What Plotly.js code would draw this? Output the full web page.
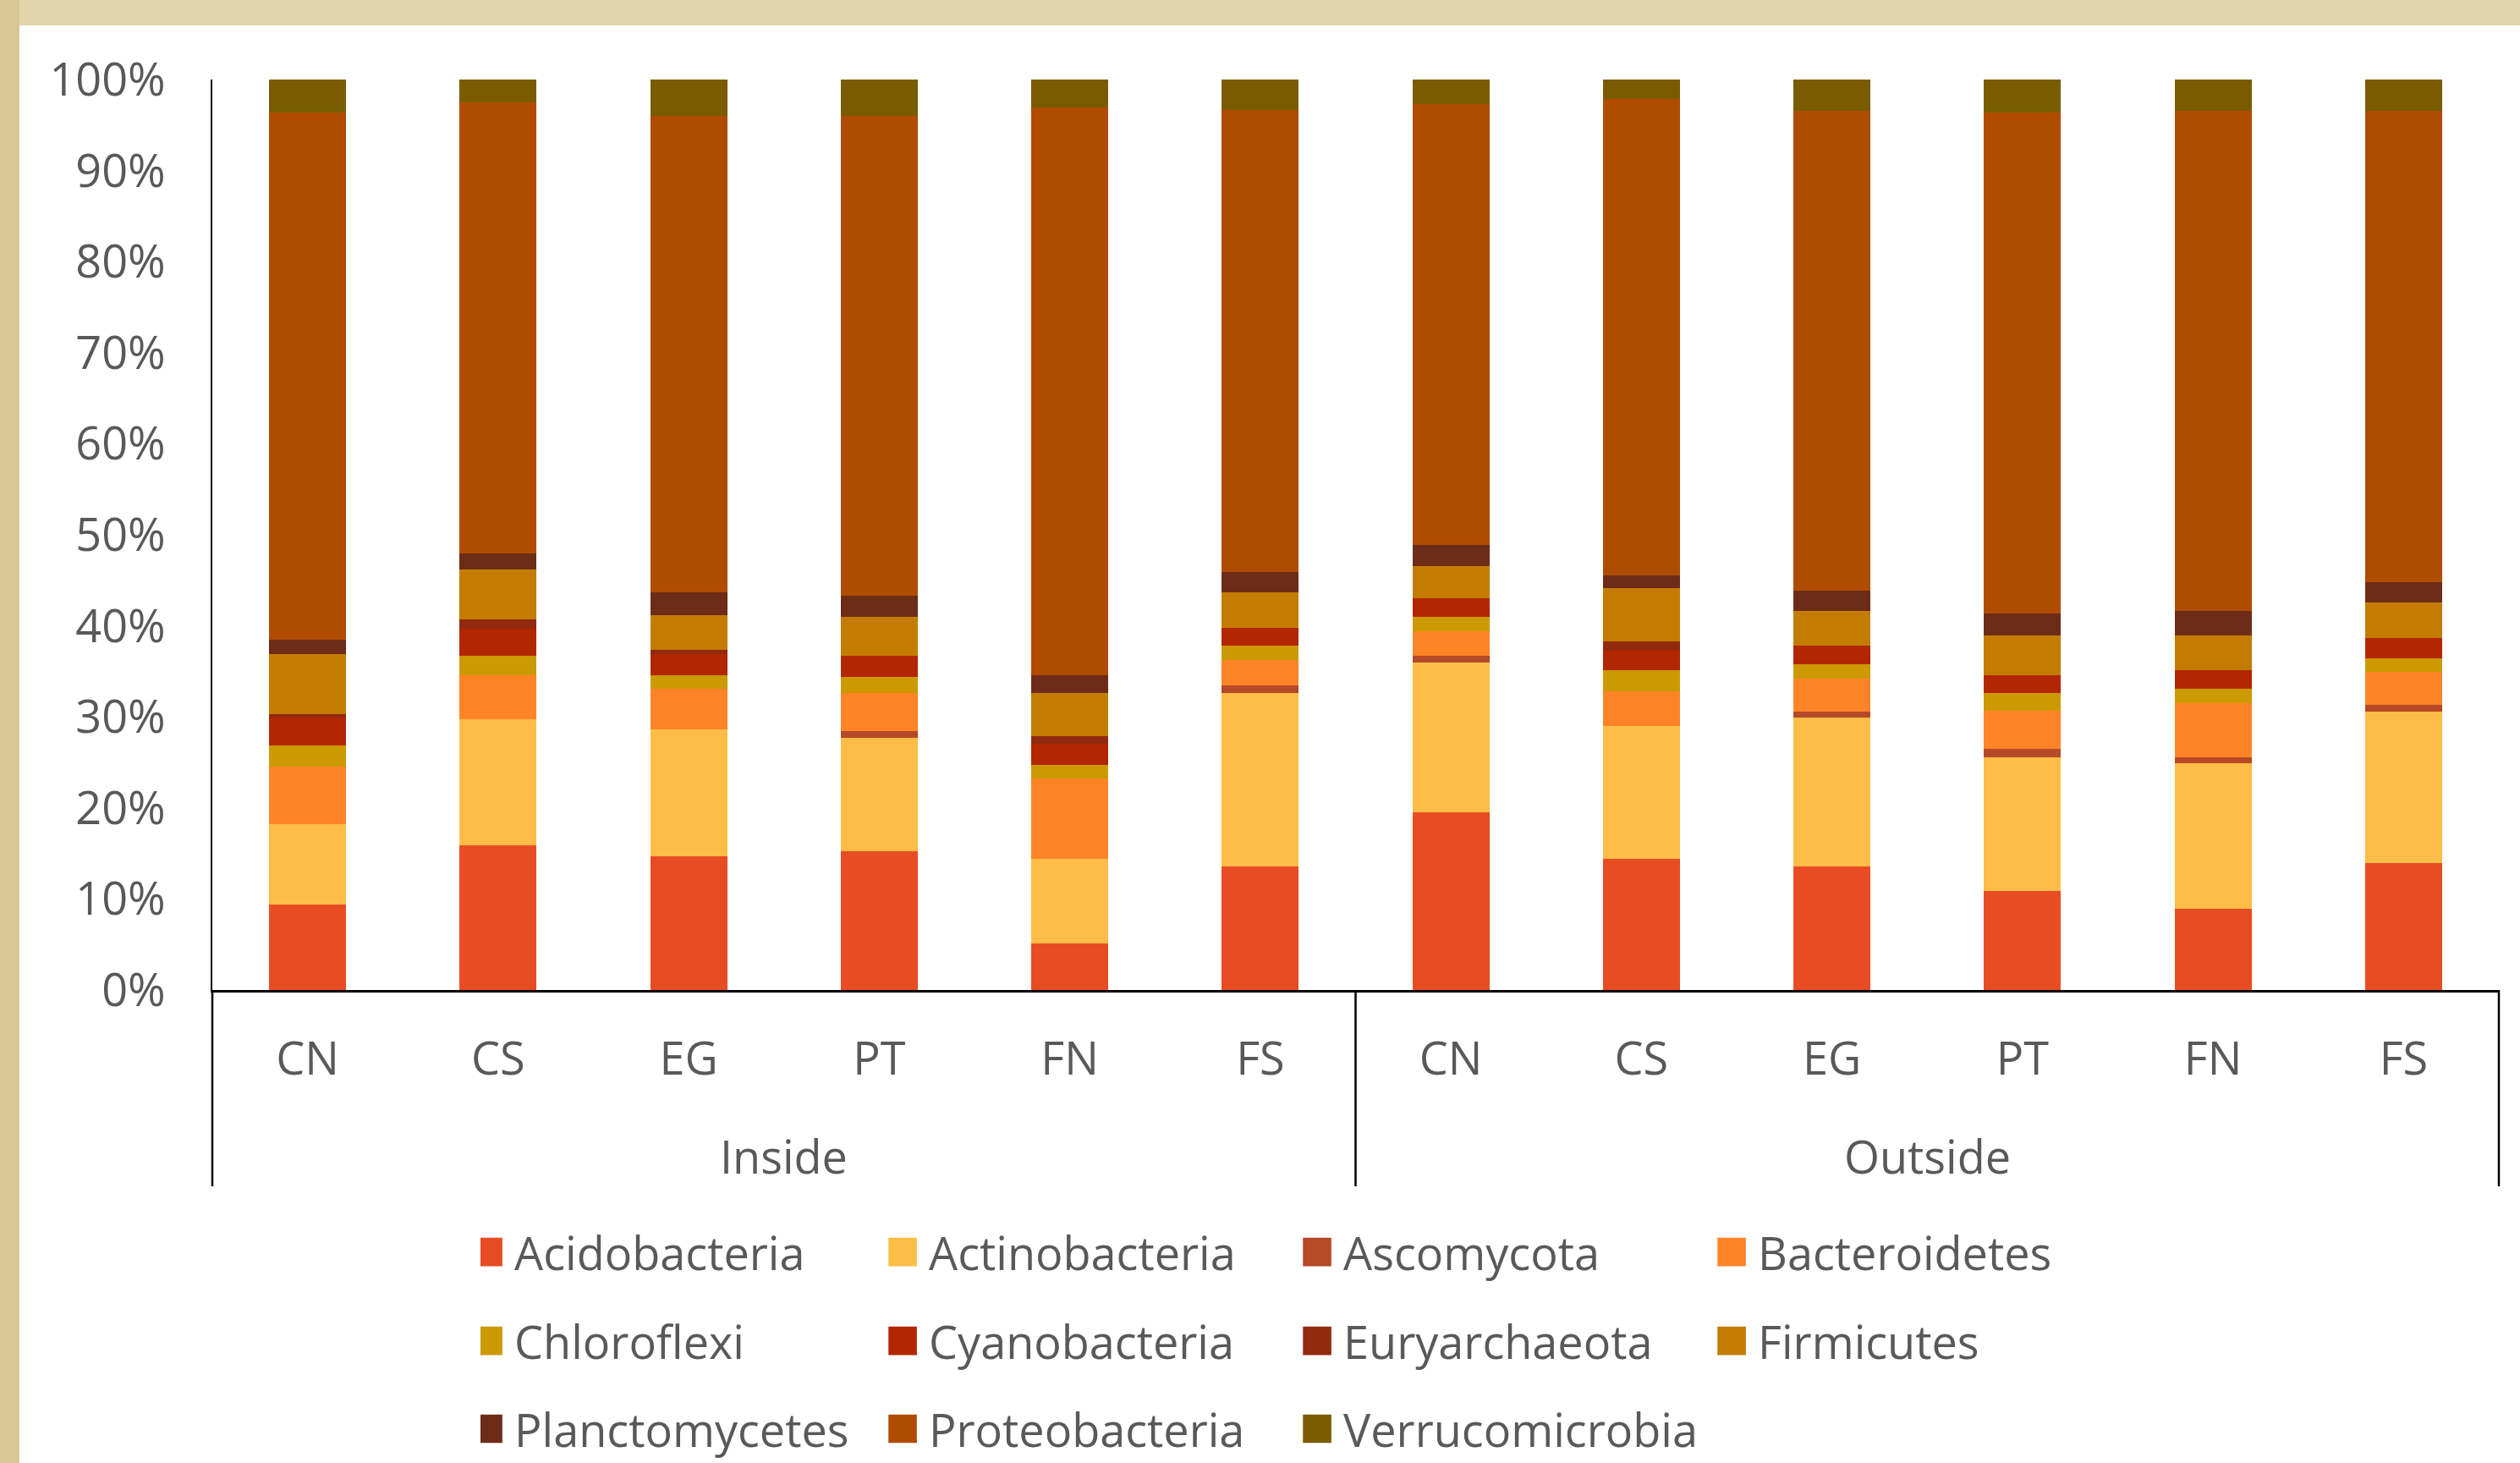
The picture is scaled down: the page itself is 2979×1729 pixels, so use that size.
<!DOCTYPE html>
<html><head><meta charset="utf-8">
<script src="https://cdn.plot.ly/plotly-3.0.1.min.js"></script>
<style>
html,body{margin:0;padding:0;width:2979px;height:1729px;overflow:hidden;background:#e2d5ab;}
#leftstrip{position:absolute;left:0;top:0;width:23px;height:1729px;background:#d8c795;}
#chart{position:absolute;left:23px;top:30px;width:2956px;height:1699px;background:#fff;}
</style></head><body>
<div id="leftstrip"></div><div id="chart"></div>
<script>
// Categories
const groups = ['Inside','Inside','Inside','Inside','Inside','Inside','Outside','Outside','Outside','Outside','Outside','Outside'];
const sites  = ['CN','CS','EG','PT','FN','FS','CN','CS','EG','PT','FN','FS'];

// Series (percent of relative abundance), order: Inside CN..FS, Outside CN..FS
const seriesNames = ['Acidobacteria','Actinobacteria','Ascomycota','Bacteroidetes','Chloroflexi','Cyanobacteria','Euryarchaeota','Firmicutes','Planctomycetes','Proteobacteria','Verrucomicrobia'];
const acidobacteria   = [9.4, 15.9, 14.7, 15.2, 5.1, 13.6, 19.5, 14.4, 13.6, 10.9, 8.9, 13.9];
const actinobacteria  = [8.8, 13.8, 13.9, 12.5, 9.3, 19.0, 16.5, 14.6, 16.3, 14.7, 16.0, 16.7];
const ascomycota      = [0.0, 0.0, 0.0, 0.7, 0.0, 0.9, 0.7, 0.0, 0.7, 0.9, 0.7, 0.7];
const bacteroidetes   = [6.3, 4.9, 4.5, 4.2, 8.8, 2.7, 2.7, 3.8, 3.6, 4.2, 5.9, 3.6];
const chloroflexi     = [2.4, 2.1, 1.5, 1.8, 1.5, 1.6, 1.6, 2.3, 1.6, 1.9, 1.6, 1.5];
const cyanobacteria   = [3.0, 3.0, 2.3, 2.3, 2.3, 2.0, 2.0, 2.2, 2.0, 2.0, 2.0, 2.3];
const euryarchaeota   = [0.4, 1.0, 0.5, 0.0, 0.9, 0.0, 0.0, 1.0, 0.0, 0.0, 0.0, 0.0];
const firmicutes      = [6.6, 5.5, 3.8, 4.3, 4.7, 3.9, 3.6, 5.8, 3.8, 4.3, 3.8, 3.9];
const planctomycetes  = [1.6, 1.8, 2.5, 2.3, 2.0, 2.2, 2.3, 1.4, 2.3, 2.5, 2.7, 2.2];
const proteobacteria  = [57.9, 49.5, 52.3, 52.7, 62.3, 50.8, 48.4, 52.4, 52.7, 55.0, 55.0, 51.8];
const verrucomicrobia = [3.6, 2.5, 4.0, 4.0, 3.1, 3.3, 2.7, 2.1, 3.4, 3.6, 3.4, 3.4];
const seriesValues = [acidobacteria, actinobacteria, ascomycota, bacteroidetes, chloroflexi, cyanobacteria, euryarchaeota, firmicutes, planctomycetes, proteobacteria, verrucomicrobia];
const seriesColors = ['#E84C22','#FFBD47','#B64926','#FF8427','#CC9900','#B22600','#912A0F','#C47C00','#6D2C17','#B04C00','#7A5C00'];
const yTicks = [0,10,20,30,40,50,60,70,80,90,100];
const yTickText = yTicks.map(v => v + '%');

const FONT = '"Open Sans", "Noto Sans", sans-serif';
const TXT = '#595959';
const FS = 54;
const legendIds = ['legend','legend','legend','legend','legend2','legend2','legend2','legend2','legend3','legend3','legend3'];

// unique category keys (group + site), shown with the site name only
const catKeys = sites.map((s, i) => groups[i] + ' ' + s);

const traces = seriesNames.map((n, i) => ({
  type: 'bar',
  name: n,
  x: catKeys,
  y: seriesValues[i],
  marker: {color: seriesColors[i]},
  legend: legendIds[i],
  hovertemplate: '%{x}<br>' + n + ': %{y:.1f}%<extra></extra>'
}));

// group labels and dividers derived from the groups array
const groupNames = [...new Set(groups)];
const annotations = groupNames.map(g => {
  const first = groups.indexOf(g), last = groups.lastIndexOf(g);
  return {
    x: (first + last) / 2, xref: 'x', y: -0.1822, yref: 'paper',
    yanchor: 'middle', xanchor: 'center', showarrow: false, text: g,
    font: {family: FONT, size: FS, color: TXT}
  };
});
const bounds = [0];
groups.forEach((g, i) => { if (i > 0 && g !== groups[i - 1]) bounds.push(i); });
bounds.push(groups.length);
const shapes = bounds.map(b => ({
  type: 'line', xref: 'paper', yref: 'paper',
  x0: b / groups.length, x1: b / groups.length, y0: 0, y1: -0.2156,
  line: {color: '#000', width: 2.5}
}));

function legendCfg(y) {
  return {
    orientation: 'h', x: 0.1173, xanchor: 'left', y: y, yanchor: 'middle',
    entrywidth: 445, entrywidthmode: 'pixels', traceorder: 'normal',
    itemwidth: 30, bgcolor: 'rgba(0,0,0,0)', borderwidth: 0,
    font: {family: FONT, size: FS, color: TXT}
  };
}

const layout = {
  width: 2956, height: 1699,
  margin: {l: 228, r: 25, t: 64, b: 559, autoexpand: false},
  paper_bgcolor: '#ffffff', plot_bgcolor: '#ffffff',
  barmode: 'stack', bargap: 0.595,
  font: {family: FONT, size: FS, color: TXT},
  xaxis: {
    type: 'category', tickvals: catKeys, ticktext: sites,
    showline: true, linecolor: '#000', linewidth: 3,
    ticks: '', showgrid: false, zeroline: false, ticklabelstandoff: 32,
    tickfont: {family: FONT, size: FS, color: TXT}
  },
  yaxis: {
    range: [0, 100], tickmode: 'array', tickvals: yTicks, ticktext: yTickText,
    showline: true, linecolor: '#000', linewidth: 2.5,
    ticks: '', showgrid: false, zeroline: false, ticklabelstandoff: 42,
    tickfont: {family: FONT, size: FS, color: TXT}
  },
  annotations: annotations,
  shapes: shapes,
  legend: legendCfg(-0.2881),
  legend2: legendCfg(-0.3857),
  legend3: legendCfg(-0.4823),
  showlegend: true
};

function bigSymbols() {
  document.querySelectorAll('#chart .legendpoints path').forEach(p => {
    p.setAttribute('transform', 'translate(9,0) scale(2.8)');
  });
}
const gd = document.getElementById('chart');
Plotly.newPlot(gd, traces, layout, {displayModeBar: false, staticPlot: true}).then(() => {
  bigSymbols();
  gd.on && gd.on('plotly_afterplot', bigSymbols);
});
</script>
</body></html>
